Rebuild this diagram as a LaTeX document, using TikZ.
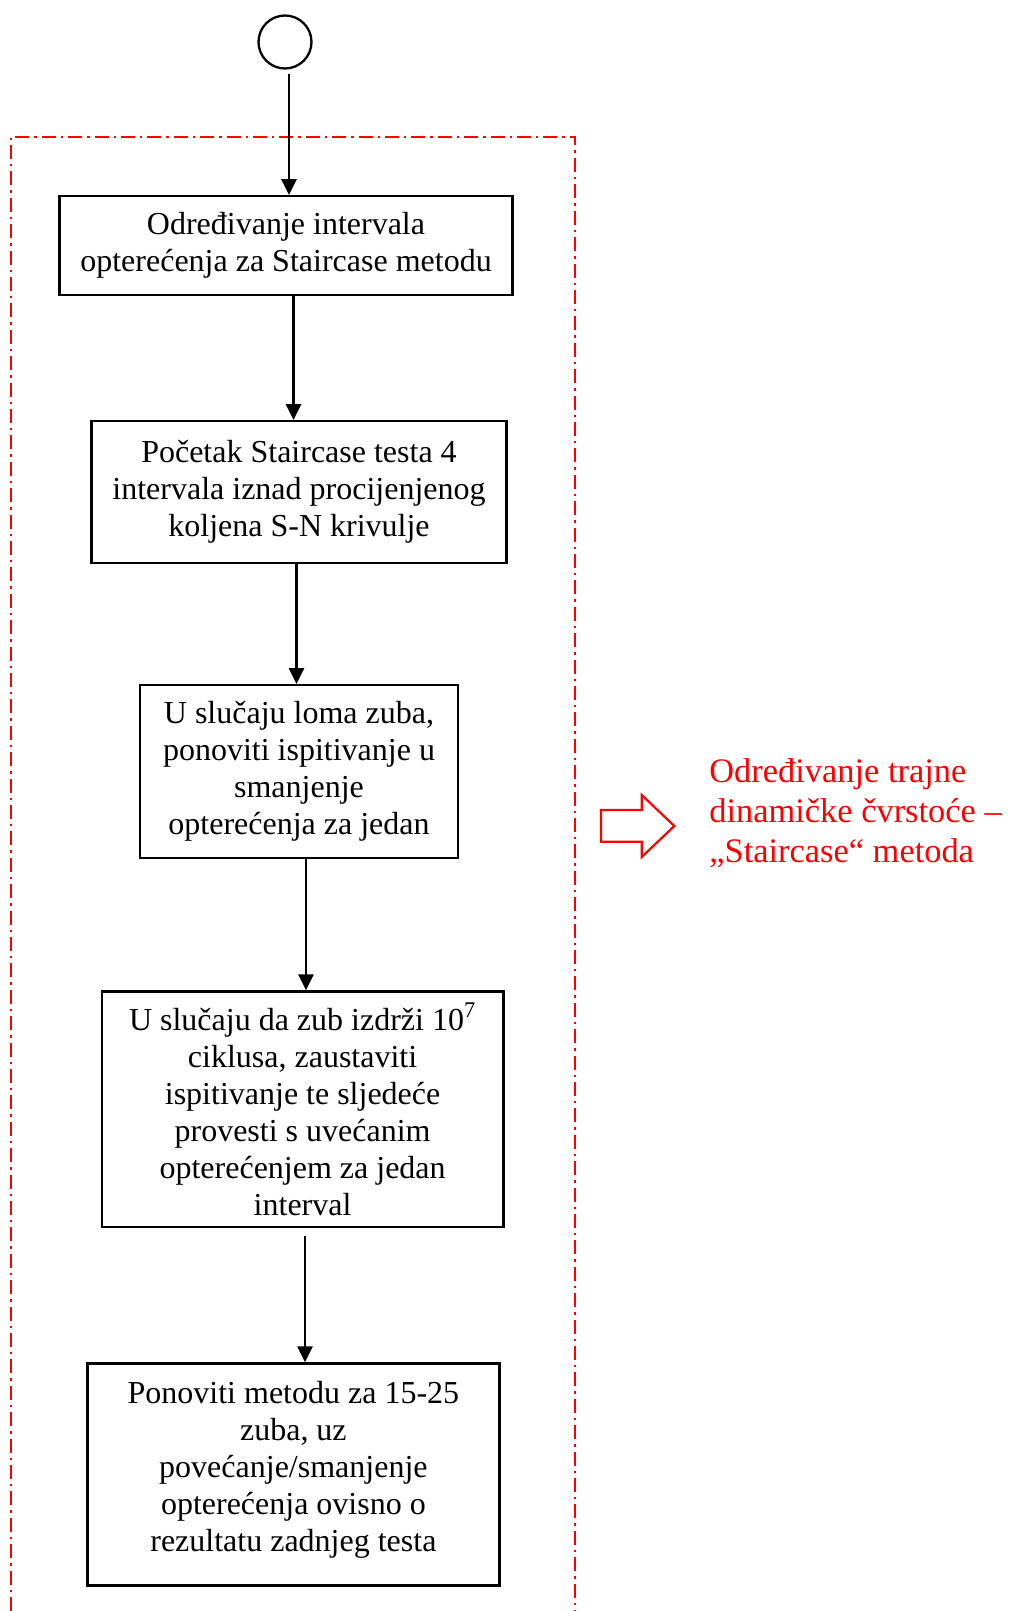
\documentclass[tikz,border=0pt]{standalone}
\usepackage{fontspec}
\setmainfont{Liberation Serif}
\usetikzlibrary{arrows.meta}
\begin{document}
\begin{tikzpicture}[x=0.5pt,y=-0.5pt,
  stepbox/.style={draw,line width=1.15pt,align=center,inner sep=0pt,
    font=\fontsize{16}{18.5}\selectfont},
  arr/.style={line width=1.4pt,-{Triangle[length=8pt,width=7.5pt]}},
  frame/.style={red,line width=1pt,dash pattern=on 7pt off 2.5pt on 1.2pt off 2.5pt}]
\useasboundingbox (0,0) rectangle (1008,1611);
% frame
\draw[frame] (11.3,1611) -- (11.3,136.7) -- (575,136.7) -- (575,1611);
% start
\node[draw,circle,line width=1.15pt,minimum size=26.5pt,inner sep=0pt] (start) at (285,42) {};
\node[stepbox,minimum width=226.5pt,minimum height=49.3pt] (b1) at (286,245.6)
  {Određivanje intervala\\opterećenja za Staircase metodu};
\node[stepbox,minimum width=207.6pt,minimum height=70.9pt] (b2) at (299,492.2)
  {Početak Staircase testa 4\\intervala iznad procijenjenog\\koljena S-N krivulje};
\node[stepbox,minimum width=159.3pt,minimum height=86.4pt] (b3) at (299,771.7)
  {U slučaju loma zuba,\\ponoviti ispitivanje u\\smanjenje\\opterećenja za jedan};
\node[stepbox,minimum width=200.9pt,minimum height=117.7pt] (b4) at (302.6,1109.2)
  {U slučaju da zub izdrži 10\textsuperscript{7}\\ciklusa, zaustaviti\\ispitivanje te sljedeće\\provesti s uvećanim\\opterećenjem za jedan\\interval};
\node[stepbox,minimum width=206pt,minimum height=111pt,text depth=8pt] (b5) at (293.4,1474.5)
  {Ponoviti metodu za 15-25\\zuba, uz\\povećanje/smanjenje\\opterećenja ovisno o\\rezultatu zadnjeg testa};
% connector x positions
\coordinate (x0) at (289,0);
\coordinate (x1) at (293.5,0);
\coordinate (x2) at (296.5,0);
\coordinate (x3) at (306,0);
\coordinate (x4) at (305,0);
\draw[arr] ([yshift=-2pt]start.south -| x0) -- (b1.north -| x0);
\draw[arr] (b1.south -| x1) -- (b2.north -| x1);
\draw[arr] (b2.south -| x2) -- (b3.north -| x2);
\draw[arr] (b3.south -| x3) -- (b4.north -| x3);
\draw[arr] ([yshift=-4pt]b4.south -| x4) -- (b5.north -| x4);
% red block arrow
\draw[red,line width=1.1pt,fill=white] (601,810) -- (641.7,810) -- (641.7,795) -- (674.3,826)
  -- (641.7,857) -- (641.7,841.7) -- (601,841.7) -- cycle;
\node[red,anchor=west,align=left,inner sep=0pt,font=\fontsize{17.2}{20}\selectfont] (note) at (709,813)
  {Određivanje trajne\\dinamičke čvrstoće –\\„Staircase“ metoda};
\end{tikzpicture}
\end{document}
